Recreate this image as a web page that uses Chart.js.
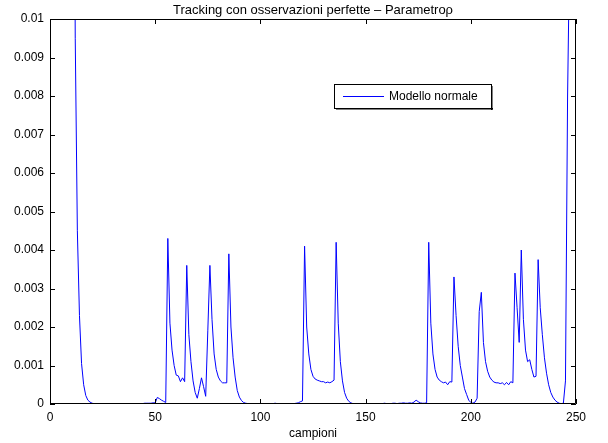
<!DOCTYPE html>
<html>
<head>
<meta charset="utf-8">
<script src="https://cdn.jsdelivr.net/npm/chart.js@4.4.1/dist/chart.umd.min.js"></script>
<style>
  html, body { margin: 0; padding: 0; background: #fff; }
  #wrap { width: 608px; height: 443px; }
</style>
</head>
<body>
<div id="wrap"><canvas id="myChart" width="608" height="443"></canvas></div>
<script>
const titleText = 'Tracking con osservazioni perfette \u2013 Parametro\u03c1';
const xLabel = 'campioni';
const seriesLabel = 'Modello normale';
const xTicks = [0, 50, 100, 150, 200, 250];
const yTicks = [0, 0.001, 0.002, 0.003, 0.004, 0.005, 0.006, 0.007, 0.008, 0.009, 0.01];

// samples 1..250
const campioni = Array.from({ length: 250 }, (_, i) => i + 1);

// parameter rho, samples 1..250 (values above 0.01 are off the plot)
const rho = [
  0.5, 0.4, 0.3, 0.2, 0.15, 0.1, 0.08, 0.06, 0.045, 0.02,            // 1-10
  0.02, 0.0095, 0.0045, 0.0023, 0.00105, 0.0005, 0.00022, 0.0001, 0.00005, 0.00002, // 11-20
  0.00001, 0.00001, 0, 0, 0, 0, 0, 0, 0, 0,                           // 21-30
  0, 0, 0, 0, 0, 0, 0, 0, 0, 0.00001,                                 // 31-40
  0.00001, 0.00001, 0.00001, 0.00001, 0.00002, 0.00002, 0.00002, 0.00002, 0.00003, 0.00003, // 41-50
  0.00017, 0.00014, 0.0001, 0.00007, 0.00004, 0.0043, 0.0021, 0.0014, 0.001, 0.00075, // 51-60
  0.00073, 0.00058, 0.00068, 0.00058, 0.0036, 0.0018, 0.0011, 0.0006, 0.0003, 0.00015, // 61-70
  0.0004, 0.00068, 0.00045, 0.0002, 0.0019, 0.0036, 0.0022, 0.0013, 0.0009, 0.0007, // 71-80
  0.0006, 0.00055, 0.00055, 0.00055, 0.0039, 0.002, 0.0012, 0.0007, 0.00035, 0.00018, // 81-90
  0.00009, 0.00004, 0.00002, 0.00001, 0.00001, 0, 0, 0, 0, 0,        // 91-100
  0, 0, 0, 0, 0.00001, 0.00001, 0.00002, 0.00001, 0, 0,              // 101-110
  0, 0, 0, 0.00001, 0.00001, 0.00001, 0.00002, 0.00003, 0.00006, 0.00008, // 111-120
  0.0041, 0.002, 0.0013, 0.0009, 0.00072, 0.00065, 0.00062, 0.0006, 0.00058, 0.00058, // 121-130
  0.00055, 0.00057, 0.00055, 0.00058, 0.00062, 0.0042, 0.0021, 0.0011, 0.0006, 0.0003, // 131-140
  0.00015, 0.00007, 0.00003, 0.00001, 0.00001, 0, 0, 0, 0, 0,        // 141-150
  0, 0, 0, 0, 0, 0.00001, 0.00001, 0.00001, 0.00002, 0.00001,        // 151-160
  0.00001, 0.00001, 0.00002, 0.00002, 0.00001, 0.00002, 0.00002, 0.00003, 0.00002, 0.00002, // 161-170
  0.00003, 0.00002, 0.00005, 0.0001, 0.00006, 0.00003, 0.00002, 0.00002, 0.00003, 0.0042, // 171-180
  0.0021, 0.0013, 0.0009, 0.0007, 0.00062, 0.00058, 0.00055, 0.00057, 0.0005, 0.00058, // 181-190
  0.00057, 0.0033, 0.0023, 0.0015, 0.001, 0.0007, 0.0004, 0.00025, 0.0001, 0.00004, // 191-200
  0.00002, 0.00005, 0.00015, 0.0024, 0.0029, 0.0016, 0.0011, 0.00085, 0.0007, 0.00062, // 201-210
  0.00057, 0.00055, 0.00055, 0.00053, 0.00055, 0.0005, 0.00056, 0.0005, 0.00058, 0.00055, // 211-220
  0.0034, 0.0025, 0.0016, 0.004, 0.0022, 0.0014, 0.0011, 0.00115, 0.0009, 0.0007, // 221-230
  0.00072, 0.00375, 0.0025, 0.0018, 0.0012, 0.0008, 0.0005, 0.0003, 0.00018, 0.0001, // 231-240
  0.00005, 0.00002, 0.00001, 0.00002, 0.0006, 0.008, 0.012, 0.03, 0.06, 0.1 // 241-250
];

const FONT = '"Liberation Sans", Arial, Helvetica, sans-serif';

// MATLAB style frame, inward ticks, title and legend box
const matlabFrame = {
  id: 'matlabFrame',
  afterDatasetsDraw(chart) {
    const { ctx, chartArea: a, scales } = chart;
    ctx.save();
    ctx.strokeStyle = '#000';
    ctx.lineWidth = 1;
    ctx.beginPath();
    ctx.rect(a.left + 0.5, a.top + 0.5, a.right - a.left - 1, a.bottom - a.top - 1);
    ctx.stroke();
    const tl = 5;
    ctx.beginPath();
    xTicks.forEach(v => {
      const px = Math.round(scales.x.getPixelForValue(v)) + 0.5;
      ctx.moveTo(px, a.bottom); ctx.lineTo(px, a.bottom - tl);
      ctx.moveTo(px, a.top); ctx.lineTo(px, a.top + tl);
    });
    yTicks.forEach(v => {
      const py = Math.round(scales.y.getPixelForValue(v)) + 0.5;
      ctx.moveTo(a.left, py); ctx.lineTo(a.left + tl, py);
      ctx.moveTo(a.right, py); ctx.lineTo(a.right - tl, py);
    });
    ctx.stroke();

    // title
    ctx.fillStyle = '#000';
    ctx.font = '13px ' + FONT;
    ctx.textAlign = 'center';
    ctx.textBaseline = 'middle';
    ctx.fillText(titleText, (a.left + a.right) / 2, 10);

    // legend
    ctx.font = '12px ' + FONT;
    const bx = 334, by = 84, bw = 157, bh = 24;
    ctx.fillStyle = '#fff';
    ctx.fillRect(bx, by, bw, bh);
    ctx.fillStyle = '#000';
    ctx.fillRect(bx + 2, by + bh, bw, 1.5);
    ctx.fillRect(bx + bw, by + 2, 1.5, bh);
    ctx.strokeStyle = '#000';
    ctx.strokeRect(bx + 0.5, by + 0.5, bw, bh);
    const ds = chart.data.datasets[0];
    ctx.strokeStyle = ds.borderColor;
    ctx.beginPath();
    ctx.moveTo(bx + 9, by + 12.5);
    ctx.lineTo(bx + 50, by + 12.5);
    ctx.stroke();
    ctx.fillStyle = '#000';
    ctx.textAlign = 'left';
    ctx.fillText(ds.label, bx + 55, by + 12.5);
    ctx.restore();
  }
};

const data = {
  labels: campioni,
  datasets: [{
    label: seriesLabel,
    data: rho.map((v, i) => ({ x: campioni[i], y: v })),
    borderColor: 'rgb(0, 0, 255)',
    backgroundColor: 'rgb(0, 0, 255)',
    borderWidth: 1,
    pointRadius: 0,
    tension: 0,
    fill: false
  }]
};

const config = {
  type: 'line',
  data: data,
  options: {
    responsive: false,
    animation: false,
    layout: { padding: { top: 19, right: 32, left: 0, bottom: 0 } },
    plugins: {
      legend: { display: false },
      title: { display: false },
      tooltip: { enabled: false }
    },
    scales: {
      x: {
        type: 'linear',
        min: 0,
        max: 250,
        afterFit: s => { s.height = 39; },
        afterBuildTicks: s => { s.ticks = xTicks.map(v => ({ value: v })); },
        grid: { display: false, drawTicks: false },
        border: { display: false },
        ticks: { color: '#000', padding: 6, maxRotation: 0, font: { size: 12, family: FONT } },
        title: { display: true, text: xLabel, color: '#000', padding: { top: 0, bottom: 2 }, font: { size: 12, family: FONT } }
      },
      y: {
        min: 0,
        max: 0.01,
        afterFit: s => { s.width = 50; },
        afterBuildTicks: s => { s.ticks = yTicks.map(v => ({ value: v })); },
        grid: { display: false, drawTicks: false },
        border: { display: false },
        ticks: {
          color: '#000', padding: 6,
          font: { size: 12, family: FONT },
          callback: v => String(Number(v.toFixed(3)))
        }
      }
    }
  },
  plugins: [matlabFrame]
};

new Chart(document.getElementById('myChart'), config);
</script>
</body>
</html>
